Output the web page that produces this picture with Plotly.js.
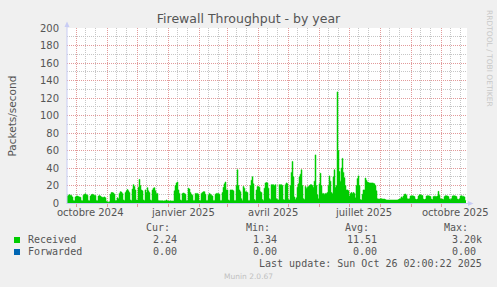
<!DOCTYPE html>
<html>
<head>
<meta charset="utf-8">
<script src="https://cdn.plot.ly/plotly-3.0.1.min.js"></script>
<style>
html,body{margin:0;padding:0;background:#F0F0F0;}
#chart{width:497px;height:287px;}
</style>
</head>
<body>
<div id="chart"></div>
<script>
// ---- data (daily values, 400 days ending at last update) ----
const startDate = '2024-09-21 02:00';
const endDate = '2025-10-26 02:00';

const receivedPart1 = [
  8, 9, 9.5, 9, 8.5, 7, 3, 2.5, 7, 8,
  8, 7.5, 7, 6.5, 3, 2.5, 9, 10, 10.5, 9.5,
  9, 3, 2.5, 8, 9.5, 10, 9.5, 9, 8.5, 3,
  2.5, 8, 8.5, 8, 7, 6.5, 6.5, 7, 6, 2,
  1.5, 1, 1.5, 10, 12, 12, 11.5, 10, 3, 3,
  6, 5, 11, 13, 12.5, 11, 3.5, 3, 12, 14,
  15.5, 14, 12, 3.5, 3, 16, 21, 19, 15, 3.5,
  3.5, 18, 27, 20, 15, 14, 3.5, 3, 15, 12,
  17.5, 14, 12, 3.5, 3, 15, 17, 17.5, 14, 11,
  11, 3, 2.6, 2.6, 2.5, 2.6, 2.4, 2.5, 2.5, 3.5
];
const receivedPart2 = [
  2.6, 2.4, 2.3, 2.5, 2.4, 2.4, 2.3, 14, 20, 23,
  24, 15, 11, 3.5, 3, 11, 11.5, 11, 10, 3,
  3, 17, 16, 12, 10, 9, 3, 3, 11, 11,
  11, 10, 3, 3, 11, 12, 13, 13, 10, 3,
  3, 9, 11, 10, 9, 8, 3, 3, 10, 11,
  11, 11, 10, 3, 3, 12, 18, 22, 24, 15,
  15, 3.5, 3, 15, 15, 15, 14, 3, 3, 20,
  38, 20, 15, 13, 5, 3, 19, 17, 13, 13,
  12, 3, 3, 20, 26, 30, 22, 4, 3, 15,
  19, 19, 18, 13, 12, 4, 3, 17, 23, 23.5
];
const receivedPart3 = [
  23, 17, 5, 4, 21, 21, 21, 20, 21, 5,
  4, 3.5, 21, 21, 21, 20, 4, 3.5, 21, 23,
  22, 4, 3.5, 20, 35, 47.5, 30, 7, 4, 6,
  18, 22, 30, 33, 38, 20, 5, 4, 19, 17,
  18, 19, 20, 21, 21, 20, 18, 25, 55, 20,
  9.5, 5, 22, 34, 20, 11, 11, 10, 11, 11,
  12, 20, 31, 25, 12, 11, 30, 38, 18, 20,
  127, 60, 36, 25, 40, 51, 35, 29, 20, 15,
  15, 14, 8, 11, 12, 11, 12, 11, 6, 20,
  28, 31, 20, 4, 3.5, 10, 15, 15, 28.5, 26
];
const receivedPart4 = [
  24, 23.5, 23, 23, 23, 23, 22.5, 22, 20, 14,
  5, 4.5, 4.5, 5, 5, 4.5, 4.5, 4.5, 4, 3.5,
  3.5, 3.5, 3.5, 3.5, 3.5, 3.5, 3.5, 3.5, 3.5, 3.5,
  3.5, 4, 4.5, 5, 7, 6, 8, 10, 10.3, 9,
  5, 4.5, 5, 8, 8.3, 8.3, 8, 7.5, 4.5, 4,
  4.5, 8, 9.4, 9.4, 9, 8.5, 4.5, 4, 4.5, 8,
  8.3, 8.3, 8, 7.5, 4.5, 4, 7.5, 7.8, 7.8, 7.5,
  8, 13.3, 9, 5, 4.5, 4.5, 4, 7.5, 8.3, 8.3,
  8, 7.5, 4.5, 4, 5, 8, 8.3, 8.3, 8, 7.5,
  4.5, 4, 5, 8, 8.3, 7.8, 7.8, 7, 3, 2.5
];
const forwardedValue = 0;

const monthStarts = ['2024-10-01','2024-11-01','2024-12-01','2025-01-01','2025-02-01','2025-03-01',
  '2025-04-01','2025-05-01','2025-06-01','2025-07-01','2025-08-01','2025-09-01','2025-10-01'];
const monthLabelDates = ['2024-10-15','2025-01-15','2025-04-15','2025-07-15','2025-10-15'];
const monthLabels = ['octobre 2024','janvier 2025','avril 2025','juillet 2025','octobre 2025'];

const legendNames = ['Received','Forwarded'];
const legendColors = ['#00CC00','#0066B3'];
const statHeaders = ['Cur:','Min:','Avg:','Max:'];
const receivedStats = ['2.24','1.34','11.51','3.20k'];
const forwardedStats = ['0.00','0.00','0.00','0.00'];
const lastUpdate = 'Last update: Sun Oct 26 02:00:22 2025';

// ---- build ----
const received = receivedPart1.concat(receivedPart2, receivedPart3, receivedPart4);
const t0 = Date.UTC(2024, 8, 21, 2, 0);
const fmt = ms => new Date(ms).toISOString().slice(0,16).replace('T',' ');
const dates = received.map((_, i) => fmt(t0 + i*86400000));
const forwarded = received.map(() => forwardedValue);

// minor vertical grid (about every 10 days inside each month)
const minorGrid = [];
['2024-09','2024-10','2024-11','2024-12','2025-01','2025-02','2025-03','2025-04','2025-05',
 '2025-06','2025-07','2025-08','2025-09','2025-10'].forEach(m => {
  minorGrid.push(m + '-10', m + '-20');
});

const W = 497, H = 287, L = 67, R = 467, T = 28, B = 203;
const px = x => (x - L) / (R - L);
const py = y => (B - y) / (B - T);

const RED = '#E29A9A', GRAY = '#C6C6C6', TXT = '#555555', AX = '#C8CCF4';
const mono = 'DejaVu Sans Mono, monospace';
const sans = 'DejaVu Sans, sans-serif';

const annotations = [];
function ann(text, x, y, xanchor, size, color, family, extra) {
  annotations.push(Object.assign({
    text, x: px(x), y: py(y), xref: 'paper', yref: 'paper',
    xanchor, yanchor: 'middle', showarrow: false,
    font: {family: family || mono, size: size || 10, color: color || TXT}
  }, extra || {}));
}

// month labels under axis
monthLabelDates.forEach((d, i) => {
  annotations.push({text: monthLabels[i], x: d, xref: 'x', y: py(212.7), yref: 'paper',
    xanchor: 'center', yanchor: 'middle', showarrow: false,
    font: {family: sans, size: 10, color: TXT}});
});

// y title
ann('Packets/second', 11, 115.5, 'center', 10.5, TXT, sans, {textangle: -90});
// rrdtool credit
ann('RRDTOOL / TOBI OETIKER', 489, 58, 'center', 7.5, '#C8C8C8', sans, {textangle: 90});

// legend table
const headX = [172, 272, 371, 470];
statHeaders.forEach((h, i) => ann(h, headX[i], 227.3, 'right'));
ann(legendNames[0], 26, 239.5, 'left');
ann(legendNames[1], 26, 251.7, 'left');
const valRight = [178.5, 278.5, 378.5, 483.5];
receivedStats.forEach((v, i) => ann(v, valRight[i], 239.5, 'right'));
forwardedStats.forEach((v, i) => ann(v + (i === 3 ? ' ' : ''), valRight[i], 251.7, 'right', 10, TXT, mono, {}));
ann(lastUpdate, 483.5, 263.3, 'right');
ann('Munin 2.0.67', 248.5, 276, 'center', 7.5, '#C0C0C0', sans);

const shapes = [
  // legend swatches
  {type:'rect', xref:'paper', yref:'paper', x0:px(14), x1:px(20), y0:py(243), y1:py(237),
   fillcolor: legendColors[0], line:{width:0}},
  {type:'rect', xref:'paper', yref:'paper', x0:px(14), x1:px(20), y0:py(255), y1:py(249),
   fillcolor: legendColors[1], line:{width:0}},
  // axes with arrows
  {type:'line', xref:'paper', yref:'paper', x0:px(67), x1:px(67), y0:py(203.5), y1:py(24),
   line:{color:AX, width:1}, layer:'above'},
  {type:'path', xref:'paper', yref:'paper',
   path:`M ${px(64.5)} ${py(27)} L ${px(67)} ${py(21.5)} L ${px(69.5)} ${py(27)} Z`,
   fillcolor:AX, line:{width:0}, layer:'above'},
  {type:'line', xref:'paper', yref:'paper', x0:px(66.5), x1:px(470), y0:py(203.5), y1:py(203.5),
   line:{color:AX, width:1}, layer:'above'},
  {type:'path', xref:'paper', yref:'paper',
   path:`M ${px(468)} ${py(201)} L ${px(473.5)} ${py(203.5)} L ${px(468)} ${py(206)} Z`,
   fillcolor:AX, line:{width:0}, layer:'above'}
];

const traces = [
  {x: dates, y: forwarded, type:'scatter', mode:'lines', name: legendNames[1],
   line:{color: legendColors[1], width:1, shape:'hv'}, hoverinfo:'skip'},
  {x: dates, y: received, type:'scatter', mode:'lines', name: legendNames[0],
   line:{color: legendColors[0], width:0.5, shape:'hv'}, fill:'tozeroy', fillcolor: legendColors[0],
   hoverinfo:'skip'}
];

const layout = {
  width: W, height: H,
  margin: {l: L, r: W - R, t: T, b: H - B, pad: 0},
  paper_bgcolor: '#F0F0F0', plot_bgcolor: '#FFFFFF',
  showlegend: false,
  title: {text: 'Firewall Throughput - by year', x: 0.5, xref: 'container', xanchor: 'center',
    y: 1 - 19/287, yref: 'container', yanchor: 'middle',
    font: {family: sans, size: 12.5, color: TXT}},
  xaxis: {type: 'date', range: [startDate, endDate], tickmode: 'array', tickvals: monthStarts,
    ticktext: monthStarts.map(() => ''), showgrid: true, gridcolor: RED, griddash: '1px,1px',
    gridwidth: 1, ticks: 'outside', ticklen: 3, tickcolor: RED, showline: false, zeroline: false,
    minor: {tickmode: 'array', tickvals: minorGrid, showgrid: true, gridcolor: GRAY,
      griddash: '1px,1px', gridwidth: 1, ticks: ''},
    fixedrange: true},
  yaxis: {range: [0, 200], tickmode: 'linear', tick0: 0, dtick: 20, showgrid: true,
    gridcolor: RED, griddash: '1px,1px', gridwidth: 1, zeroline: false, showline: false,
    ticks: 'outside', ticklen: 5, tickcolor: 'rgba(0,0,0,0)',
    tickfont: {family: sans, size: 10, color: TXT},
    minor: {dtick: 10, tick0: 0, showgrid: true, gridcolor: GRAY, griddash: '1px,1px', gridwidth: 1, ticks: ''},
    fixedrange: true},
  annotations, shapes
};

Plotly.newPlot('chart', traces, layout, {staticPlot: true, displayModeBar: false});
</script>
</body>
</html>
